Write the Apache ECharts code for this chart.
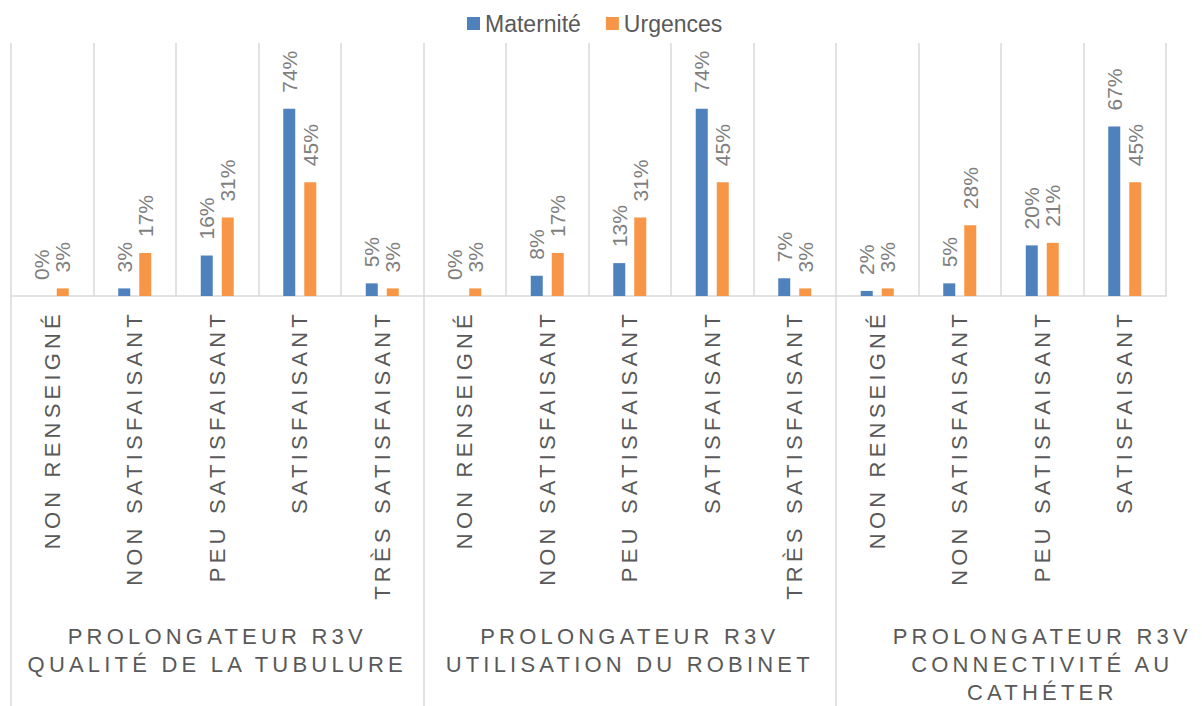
<!DOCTYPE html>
<html>
<head>
<meta charset="utf-8">
<title>Prolongateur R3V – Maternité / Urgences</title>
<script src="https://cdn.jsdelivr.net/npm/echarts@6/dist/echarts.min.js"></script>
<style>
  html, body { margin: 0; padding: 0; background: #ffffff; }
  #chart { width: 1202px; height: 706px; }
  /* letter-spaced capitals for the category and group labels (family "Arimo" is the marker) */
  #chart [style*="Arimo"], #chart [font-family*="Arimo"] { letter-spacing: 4.2px; }
</style>
</head>
<body>
<div id="chart"></div>
<script>
// Inner categories (answers), left to right
const categories = [
  'NON RENSEIGNÉ', 'NON SATISFAISANT', 'PEU SATISFAISANT', 'SATISFAISANT', 'TRÈS SATISFAISANT',
  'NON RENSEIGNÉ', 'NON SATISFAISANT', 'PEU SATISFAISANT', 'SATISFAISANT', 'TRÈS SATISFAISANT',
  'NON RENSEIGNÉ', 'NON SATISFAISANT', 'PEU SATISFAISANT', 'SATISFAISANT'
];

// Outer groups (questions) and how many categories each one spans
const groupNames = [
  'PROLONGATEUR R3V\nQUALITÉ DE LA TUBULURE',
  'PROLONGATEUR R3V\nUTILISATION DU ROBINET',
  'PROLONGATEUR R3V\nCONNECTIVITÉ AU\nCATHÉTER'
];
const groupSizes = [5, 5, 4];

// Percentages per service
const maternite = [0, 3, 16, 74, 5, 0, 8, 13, 74, 7, 2, 5, 20, 67];
const urgences  = [3, 17, 31, 45, 3, 3, 17, 31, 45, 3, 3, 28, 21, 45];

// Group boundaries on a 0..N scale shared with the category axis;
// every group title is laid out in a slot as wide as the widest group
const widestGroup = Math.max.apply(null, groupSizes);
const groupBounds = [];
const groupLabelAt = [];
let acc = 0;
groupSizes.forEach(function (n) {
  groupBounds.push(acc);
  groupLabelAt.push(acc + widestGroup / 2);
  acc += n;
});

const spacedFont = "Arimo, 'Liberation Sans', Arial, sans-serif";
const plainFont = "'Liberation Sans', Arial, sans-serif";
const gridColor = '#d9d9d9';
const textColor = '#595959';

const valueLabel = {
  show: true,
  position: 'top',
  distance: 16,
  rotate: 90,
  align: 'left',
  verticalAlign: 'middle',
  color: '#7f7f7f',
  fontSize: 21,
  fontFamily: plainFont,
  formatter: function (p) { return p.value + '%'; }
};

const chart = echarts.init(document.getElementById('chart'), null, { renderer: 'svg' });

chart.setOption({
  animation: false,
  backgroundColor: '#ffffff',
  textStyle: { fontFamily: plainFont },
  legend: {
    top: 7,
    left: 462,
    icon: 'rect',
    itemWidth: 13,
    itemHeight: 13,
    itemGap: 25,
    textStyle: { fontSize: 23, color: textColor, fontFamily: plainFont },
    data: ['Maternité', 'Urgences']
  },
  grid: {
    left: 11,
    right: 36,
    top: 43,
    bottom: 410,
    containLabel: false,
    outerBoundsMode: 'none'
  },
  xAxis: [
    {
      type: 'category',
      position: 'bottom',
      data: categories,
      axisLine: { show: true, lineStyle: { color: gridColor, width: 1.5 } },
      axisTick: { show: false },
      splitLine: { show: true, interval: 0, lineStyle: { color: gridColor, width: 1.5 } },
      axisLabel: {
        interval: 0,
        rotate: 90,
        margin: 14,
        fontSize: 22,
        color: textColor,
        fontFamily: spacedFont
      }
    },
    {
      type: 'value',
      position: 'bottom',
      min: 0,
      max: categories.length,
      axisLine: { show: false },
      splitLine: { show: false },
      axisTick: {
        show: true,
        customValues: groupBounds,
        length: 410,
        lineStyle: { color: gridColor, width: 1.5 }
      },
      axisLabel: {
        customValues: groupLabelAt,
        margin: 326,
        fontSize: 22,
        lineHeight: 28,
        align: 'center',
        color: textColor,
        fontFamily: spacedFont,
        formatter: function (v) {
          const i = groupLabelAt.indexOf(v);
          return i >= 0 ? groupNames[i] : '';
        }
      }
    }
  ],
  yAxis: {
    type: 'value',
    min: 0,
    max: 100,
    show: false,
    splitLine: { show: false }
  },
  series: [
    {
      name: 'Maternité',
      type: 'bar',
      xAxisIndex: 0,
      data: maternite,
      barWidth: 12,
      barGap: '75%',
      itemStyle: { color: '#4f81bd' },
      label: valueLabel
    },
    {
      name: 'Urgences',
      type: 'bar',
      xAxisIndex: 0,
      data: urgences,
      barWidth: 12,
      barGap: '75%',
      itemStyle: { color: '#f79646' },
      label: valueLabel
    }
  ]
});
</script>
</body>
</html>
